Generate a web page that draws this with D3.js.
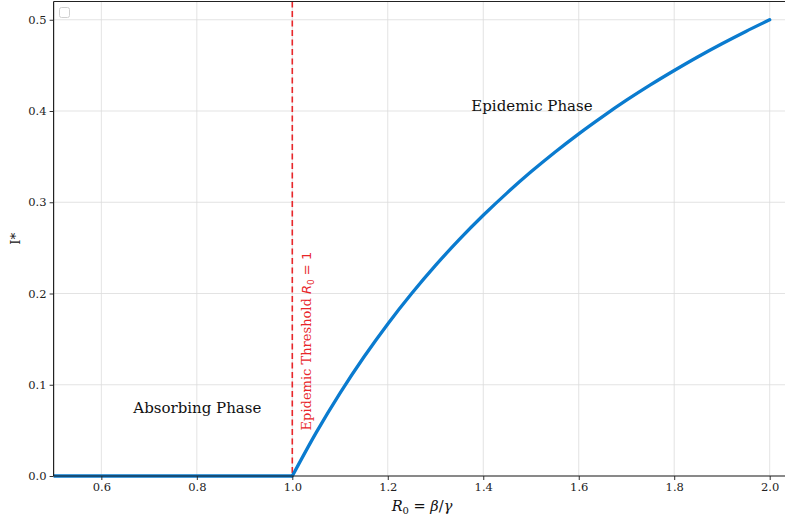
<!DOCTYPE html>
<html>
<head>
<meta charset="utf-8">
<script src="https://cdn.jsdelivr.net/npm/d3@7"></script>
<style>
  body { margin: 0; background: #fff; }
  svg { display: block; }
  text { font-family: "DejaVu Serif", serif; }
  .tick text { font-family: "DejaVu Serif", serif !important; }
</style>
</head>
<body>
<svg id="chart" width="785" height="519"></svg>
<script>
// Steady-state infected fraction I* against the basic reproduction number R0
const r0Absorbing = [0.5, 0.6, 0.7, 0.8, 0.9, 1.0];
const iAbsorbing  = [0, 0, 0, 0, 0, 0];

const r0Epidemic = [1.0, 1.05, 1.1, 1.15, 1.2, 1.25, 1.3, 1.35, 1.4, 1.45, 1.5,
                    1.55, 1.6, 1.65, 1.7, 1.75, 1.8, 1.85, 1.9, 1.95, 2.0];
const iEpidemic  = [0.0, 0.0476, 0.0909, 0.1304, 0.1667, 0.2, 0.2308, 0.2593, 0.2857,
                    0.3103, 0.3333, 0.3548, 0.375, 0.3939, 0.4118, 0.4286, 0.4444,
                    0.4595, 0.4737, 0.4872, 0.5];

const xTicks = [0.6, 0.8, 1.0, 1.2, 1.4, 1.6, 1.8, 2.0];
const yTicks = [0.0, 0.1, 0.2, 0.3, 0.4, 0.5];
const threshold = 1.0;

const svg = d3.select("#chart");
const plotLeft = 53.6, plotTop = 1.5, plotBottom = 476, plotRight = 805.5;

const x = d3.scaleLinear().domain([0.5, 2.075]).range([plotLeft, plotRight]);
const y = d3.scaleLinear().domain([0, 0.52]).range([plotBottom, plotTop]);

// grid
const grid = svg.append("g");
grid.selectAll(".gx").data(xTicks).join("line")
  .attr("x1", d => x(d)).attr("x2", d => x(d))
  .attr("y1", plotTop).attr("y2", plotBottom)
  .attr("stroke", "#dcdcdc").attr("stroke-width", 0.8);
grid.selectAll(".gy").data(yTicks).join("line")
  .attr("x1", plotLeft).attr("x2", plotRight)
  .attr("y1", d => y(d)).attr("y2", d => y(d))
  .attr("stroke", "#dcdcdc").attr("stroke-width", 0.8);

// threshold line
svg.append("line")
  .attr("x1", x(threshold)).attr("x2", x(threshold))
  .attr("y1", plotTop).attr("y2", plotBottom)
  .attr("stroke", "#e8262a").attr("stroke-width", 1.6)
  .attr("stroke-dasharray", "6,3.5");

// curves
const lineFlat = d3.line().x(d => x(d[0])).y(d => y(d[1]));
const lineCurve = d3.line().x(d => x(d[0])).y(d => y(d[1])).curve(d3.curveMonotoneX);

svg.append("path")
  .datum(d3.zip(r0Absorbing, iAbsorbing))
  .attr("d", lineFlat)
  .attr("fill", "none").attr("stroke", "#0a7bcf").attr("stroke-width", 3.3);
svg.append("path")
  .datum(d3.zip(r0Epidemic, iEpidemic))
  .attr("d", lineCurve)
  .attr("fill", "none").attr("stroke", "#0a7bcf").attr("stroke-width", 3.3)
  .attr("stroke-linecap", "round");

// axes
const xAxis = svg.append("g").attr("transform", `translate(0,${plotBottom})`)
  .call(d3.axisBottom(x).tickValues(xTicks).tickFormat(d3.format(".1f")).tickSize(4).tickPadding(3));
const yAxis = svg.append("g").attr("transform", `translate(${plotLeft},0)`)
  .call(d3.axisLeft(y).tickValues(yTicks).tickFormat(d3.format(".1f")).tickSize(4).tickPadding(3));
[xAxis, yAxis].forEach(a => {
  a.attr("font-family", "DejaVu Serif").attr("font-size", 11.5);
  a.select(".domain").remove();
  a.selectAll("text").attr("fill", "#222");
  a.selectAll("line").attr("stroke", "#333");
});

// frame (left, top, bottom)
svg.append("line").attr("x1", plotLeft).attr("x2", plotLeft).attr("y1", plotTop).attr("y2", plotBottom)
  .attr("stroke", "#222").attr("stroke-width", 1.2);
svg.append("line").attr("x1", plotLeft).attr("x2", plotRight).attr("y1", plotTop).attr("y2", plotTop)
  .attr("stroke", "#222").attr("stroke-width", 1.2);
svg.append("line").attr("x1", plotLeft).attr("x2", plotRight).attr("y1", plotBottom).attr("y2", plotBottom)
  .attr("stroke", "#222").attr("stroke-width", 1.2);

// empty legend frame
svg.append("rect")
  .attr("x", 59.5).attr("y", 7.5).attr("width", 10).attr("height", 10).attr("rx", 2)
  .attr("fill", "#fff").attr("stroke", "#d0d0d0");

// phase labels
svg.append("text").attr("x", x(0.667)).attr("y", y(0.069)).attr("font-size", 15)
  .attr("fill", "#111").text("Absorbing Phase");
svg.append("text").attr("x", x(1.375)).attr("y", y(0.4)).attr("font-size", 15)
  .attr("fill", "#111").text("Epidemic Phase");

// threshold label
const tl = svg.append("text")
  .attr("transform", `translate(${x(1.04)},${y(0.05)}) rotate(-90)`)
  .attr("font-size", 13).attr("fill", "#e8262a");
tl.append("tspan").text("Epidemic Threshold ");
tl.append("tspan").attr("font-family", "DejaVu Sans").attr("font-style", "italic").text("R");
tl.append("tspan").attr("font-family", "DejaVu Sans").attr("font-size", 9).attr("dy", 3).text("0");
tl.append("tspan").attr("font-family", "DejaVu Sans").attr("dy", -3).text(" = 1");

// axis titles
const xl = svg.append("text").attr("x", 422).attr("y", 511).attr("text-anchor", "middle")
  .attr("font-size", 14.5).attr("fill", "#111").attr("font-family", "DejaVu Sans");
xl.append("tspan").attr("font-style", "italic").text("R");
xl.append("tspan").attr("font-size", 10).attr("dy", 3).text("0");
xl.append("tspan").attr("dy", -3).text(" = ");
xl.append("tspan").attr("font-style", "italic").text("β");
xl.append("tspan").text("/");
xl.append("tspan").attr("font-style", "italic").text("γ");

svg.append("text")
  .attr("transform", `translate(20,${y(0.26)}) rotate(-90)`)
  .attr("text-anchor", "middle").attr("font-size", 13.5).attr("fill", "#111")
  .text("I*");
</script>
</body>
</html>
